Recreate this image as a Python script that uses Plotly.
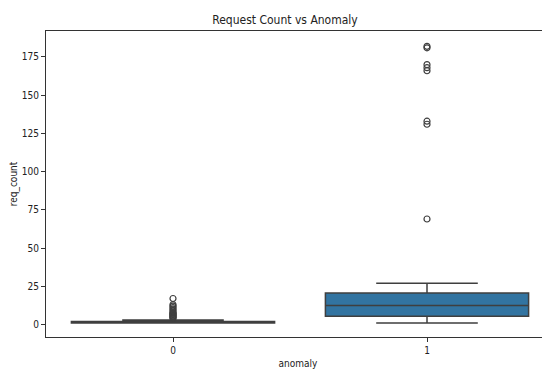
import plotly.graph_objects as go

categories = [0, 1]
tick_labels = ["0", "1"]
q1 = [1, 5.4]
median = [1, 12.4]
q3 = [2, 20.6]
lower_whisker = [1, 1]
upper_whisker = [3, 27]
outliers_0 = [4, 4.5, 5, 5.5, 6, 6.5, 7, 7.5, 8, 9, 10, 11, 12, 13, 17]
outliers_1 = [69, 131, 133, 166, 168, 170, 181, 182]

FONT = "DejaVu Sans Condensed, DejaVu Sans, sans-serif"
line_col = "#3f3f3f"
fill_col = "#3274a1"

W, H = 542, 361  # page body adds an 8px margin

fig = go.Figure()
for i, c in enumerate(categories):
    fig.add_trace(go.Box(
        x=[c], q1=[q1[i]], median=[median[i]], q3=[q3[i]],
        lowerfence=[lower_whisker[i]], upperfence=[upper_whisker[i]],
        width=0.8, whiskerwidth=0.5, fillcolor=fill_col,
        line=dict(color=line_col, width=1.5), boxpoints=False,
        showlegend=False, hoverinfo="skip"))

for c, outs in zip(categories, [outliers_0, outliers_1]):
    fig.add_trace(go.Scatter(
        x=[c] * len(outs), y=outs, mode="markers",
        marker=dict(symbol="circle-open", size=6, color=line_col,
                    line=dict(width=1.2, color=line_col)),
        showlegend=False, hoverinfo="skip"))

fig.update_layout(
    width=W, height=H,
    margin=dict(l=38, r=0, t=23, b=32),
    plot_bgcolor="white", paper_bgcolor="white",
    font=dict(family=FONT, size=10, color="#222"),
    title=dict(text="Request Count vs Anomaly", x=(285 - 8)/W, xanchor="center",
               y=1 - 12/H, yanchor="middle", font=dict(size=12, color="#222")),
)
fig.update_xaxes(
    range=[-0.5, -0.5 + 504/254], tickmode="array", tickvals=categories,
    ticktext=tick_labels, showgrid=False, zeroline=False,
    showline=True, linecolor="#333", linewidth=1, mirror=True,
    ticks="outside", ticklen=4, tickcolor="#333",
    title=dict(text="anomaly", standoff=7, font=dict(size=10)))
fig.update_yaxes(
    range=[-8.2, 192], tickvals=[0, 25, 50, 75, 100, 125, 150, 175],
    showgrid=False, zeroline=False, showline=True, linecolor="#333",
    linewidth=1, ticks="outside", ticklen=4, tickcolor="#333",
    title=dict(text="req_count", standoff=5, font=dict(size=10)))

fig.write_html("out.html")
